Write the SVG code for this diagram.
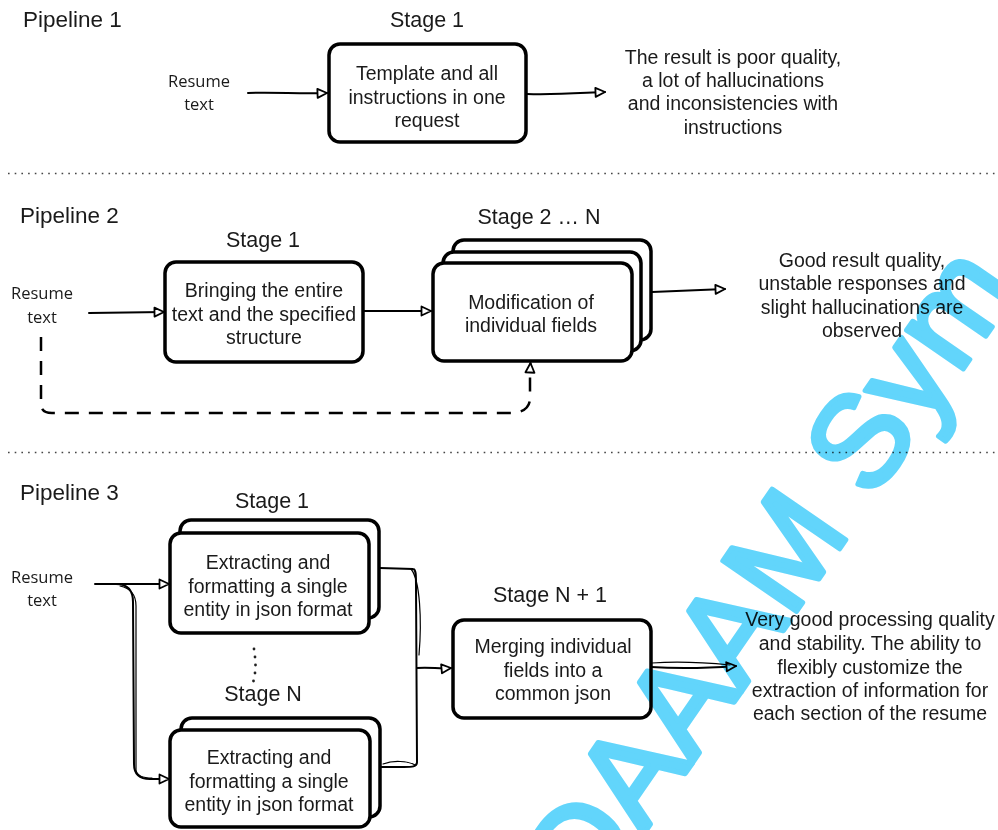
<svg xmlns="http://www.w3.org/2000/svg" width="998" height="830" viewBox="0 0 998 830">
<style>
.box{fill:#fff;stroke:#000;stroke-width:3.5;stroke-linejoin:round}
.t{font-family:"Liberation Sans",Arial,sans-serif;font-size:19.5px;fill:#1a1a1a;text-anchor:middle}
.h{font-family:"Liberation Sans",Arial,sans-serif;font-size:22.5px;fill:#1a1a1a}
.s{font-family:"Liberation Sans",Arial,sans-serif;font-size:21.5px;fill:#1a1a1a;text-anchor:middle}
.r{font-family:"Open Sans","Liberation Sans",sans-serif;font-size:16.5px;fill:#1a1a1a;text-anchor:middle}
.c{fill:none;stroke:#000;stroke-width:2;stroke-linecap:round;stroke-linejoin:round}
.thin{fill:none;stroke:#000;stroke-width:1.2;stroke-linecap:round}
.dash{fill:none;stroke:#000;stroke-width:2.5;stroke-dasharray:14 10}
.sep{stroke:#444;stroke-width:1.6;stroke-dasharray:1.6 5.1}
.wm{font-family:"Liberation Sans",Arial,sans-serif;font-size:130px;fill:#62d5fb;stroke:#62d5fb;stroke-width:5;stroke-linejoin:round;mix-blend-mode:multiply}
</style>
<defs>
<marker id="ah" markerUnits="userSpaceOnUse" markerWidth="14" markerHeight="14" refX="11" refY="6" orient="auto">
<path d="M1.5,1.5 L11,6 L1.5,10.5 Z" fill="#fff" stroke="#000" stroke-width="1.8" stroke-linejoin="round"/>
</marker>
</defs>
<rect width="998" height="830" fill="#fff"/>

<!-- separators -->
<line class="sep" x1="8" y1="173.5" x2="998" y2="173.5"/>
<line class="sep" x1="8" y1="452.5" x2="998" y2="452.5"/>

<!-- Pipeline 1 -->
<text class="h" x="23" y="27">Pipeline 1</text>
<g id="p1-input"><text class="r" x="199" y="87">Resume</text><text class="r" x="199" y="110">text</text></g>
<g id="p1-stage1">
<text class="s" x="427" y="27">Stage 1</text>
<rect class="box" x="329" y="44" width="197" height="98" rx="11"/>
<text class="t" x="427" y="80">Template and all</text>
<text class="t" x="427" y="104">instructions in one</text>
<text class="t" x="427" y="127">request</text>
</g>
<g id="p1-result">
<text class="t" x="733" y="64">The result is poor quality,</text>
<text class="t" x="733" y="87">a lot of hallucinations</text>
<text class="t" x="733" y="110">and inconsistencies with</text>
<text class="t" x="733" y="134">instructions</text>
</g>

<!-- Pipeline 2 -->
<text class="h" x="20" y="223">Pipeline 2</text>
<g id="p2-input"><text class="r" x="42" y="299">Resume</text><text class="r" x="42" y="323">text</text></g>
<g id="p2-stage1">
<text class="s" x="263" y="247">Stage 1</text>
<rect class="box" x="165" y="262" width="198" height="100" rx="11"/>
<text class="t" x="264" y="297">Bringing the entire</text>
<text class="t" x="264" y="321">text and the specified</text>
<text class="t" x="264" y="344">structure</text>
</g>
<g id="p2-stage2n">
<text class="s" x="539" y="224">Stage 2 … N</text>
<rect class="box" x="453" y="240" width="198" height="100" rx="11"/>
<rect class="box" x="443" y="252" width="198" height="99" rx="11"/>
<rect class="box" x="433" y="263" width="199" height="98" rx="11"/>
<text class="t" x="531" y="309">Modification of</text>
<text class="t" x="531" y="332">individual fields</text>
</g>
<g id="p2-result">
<text class="t" x="862" y="267">Good result quality,</text>
<text class="t" x="862" y="290">unstable responses and</text>
<text class="t" x="862" y="314">slight hallucinations are</text>
<text class="t" x="862" y="337">observed</text>
</g>

<!-- Pipeline 3 -->
<text class="h" x="20" y="500">Pipeline 3</text>
<g id="p3-input"><text class="r" x="42" y="583">Resume</text><text class="r" x="42" y="606">text</text></g>
<g id="p3-stage1">
<text class="s" x="272" y="508">Stage 1</text>
<rect class="box" x="180" y="520" width="199" height="98" rx="11"/>
<rect class="box" x="170" y="533" width="199" height="100" rx="11"/>
<text class="t" x="268" y="569">Extracting and</text>
<text class="t" x="268" y="593">formatting a single</text>
<text class="t" x="268" y="616">entity in json format</text>
</g>
<g id="p3-dots" fill="#222">
<circle cx="254" cy="649" r="1.4"/><circle cx="255" cy="657" r="1.4"/><circle cx="255.5" cy="665" r="1.4"/><circle cx="255" cy="673" r="1.4"/><circle cx="253.5" cy="681" r="1.4"/>
</g>
<g id="p3-stageN">
<text class="s" x="263" y="701">Stage N</text>
<rect class="box" x="181" y="718" width="199" height="99" rx="11"/>
<rect class="box" x="170" y="730" width="200" height="97" rx="11"/>
<text class="t" x="269" y="764">Extracting and</text>
<text class="t" x="269" y="788">formatting a single</text>
<text class="t" x="269" y="811">entity in json format</text>
</g>
<g id="p3-stageN1">
<text class="s" x="550" y="602">Stage N + 1</text>
<rect class="box" x="453" y="620" width="198" height="98" rx="11"/>
<text class="t" x="553" y="653">Merging individual</text>
<text class="t" x="553" y="677">fields into a</text>
<text class="t" x="553" y="700">common json</text>
</g>
<g id="p3-result">
<text class="t" x="870" y="626">Very good processing quality</text>
<text class="t" x="870" y="650">and stability. The ability to</text>
<text class="t" x="870" y="674">flexibly customize the</text>
<text class="t" x="870" y="697">extraction of information for</text>
<text class="t" x="870" y="720">each section of the resume</text>
</g>

<!-- connectors -->
<g id="connectors">
<path class="c" d="M248,93 C275,92 300,94 327,93" marker-end="url(#ah)"/>
<path class="c" d="M527,94 C555,95 580,93 605,92" marker-end="url(#ah)"/>

<path class="c" d="M89,313 L164,312" marker-end="url(#ah)"/>
<path class="c" d="M364,311 L431,311" marker-end="url(#ah)"/>
<path class="c" d="M652,292 C675,291 700,290 725,289" marker-end="url(#ah)"/>
<path class="dash" d="M41,337 L41,404 Q41,413 52,413 L512,413 Q530,412 530,398 L530,372"/>
<path class="c" d="M530,372 L530.5,363" marker-end="url(#ah)"/>

<path class="c" d="M95,584 L169,584" marker-end="url(#ah)"/>
<path class="c" d="M116,584 C128,584 133,590 133,602 L134,764 C134,774 139,779 150,779 L169,779" marker-end="url(#ah)"/>
<path class="thin" d="M120,586 C130,588 136,594 136,606 L136,770 C137,776 142,778 152,778"/>
<path class="c" d="M380,568 L413,569 C416,569 416,575 416,585 L417,762 C417,767 412,767 404,767 L380,767"/>
<path class="thin" d="M411,569 C420,580 422,620 419,655"/>
<path class="thin" d="M383,764 C393,760 408,761 415,765"/>
<path class="c" d="M417,668 C430,667 440,669 451,668" marker-end="url(#ah)"/>
<path class="c" d="M651,667 C680,669 710,668 736,666" marker-end="url(#ah)"/>
<path class="thin" d="M652,663 C680,661 710,663 730,665"/>
</g>

<!-- watermark -->
<text class="wm" transform="translate(590,912) rotate(-55.5)">DAAAM Sym</text>
</svg>
